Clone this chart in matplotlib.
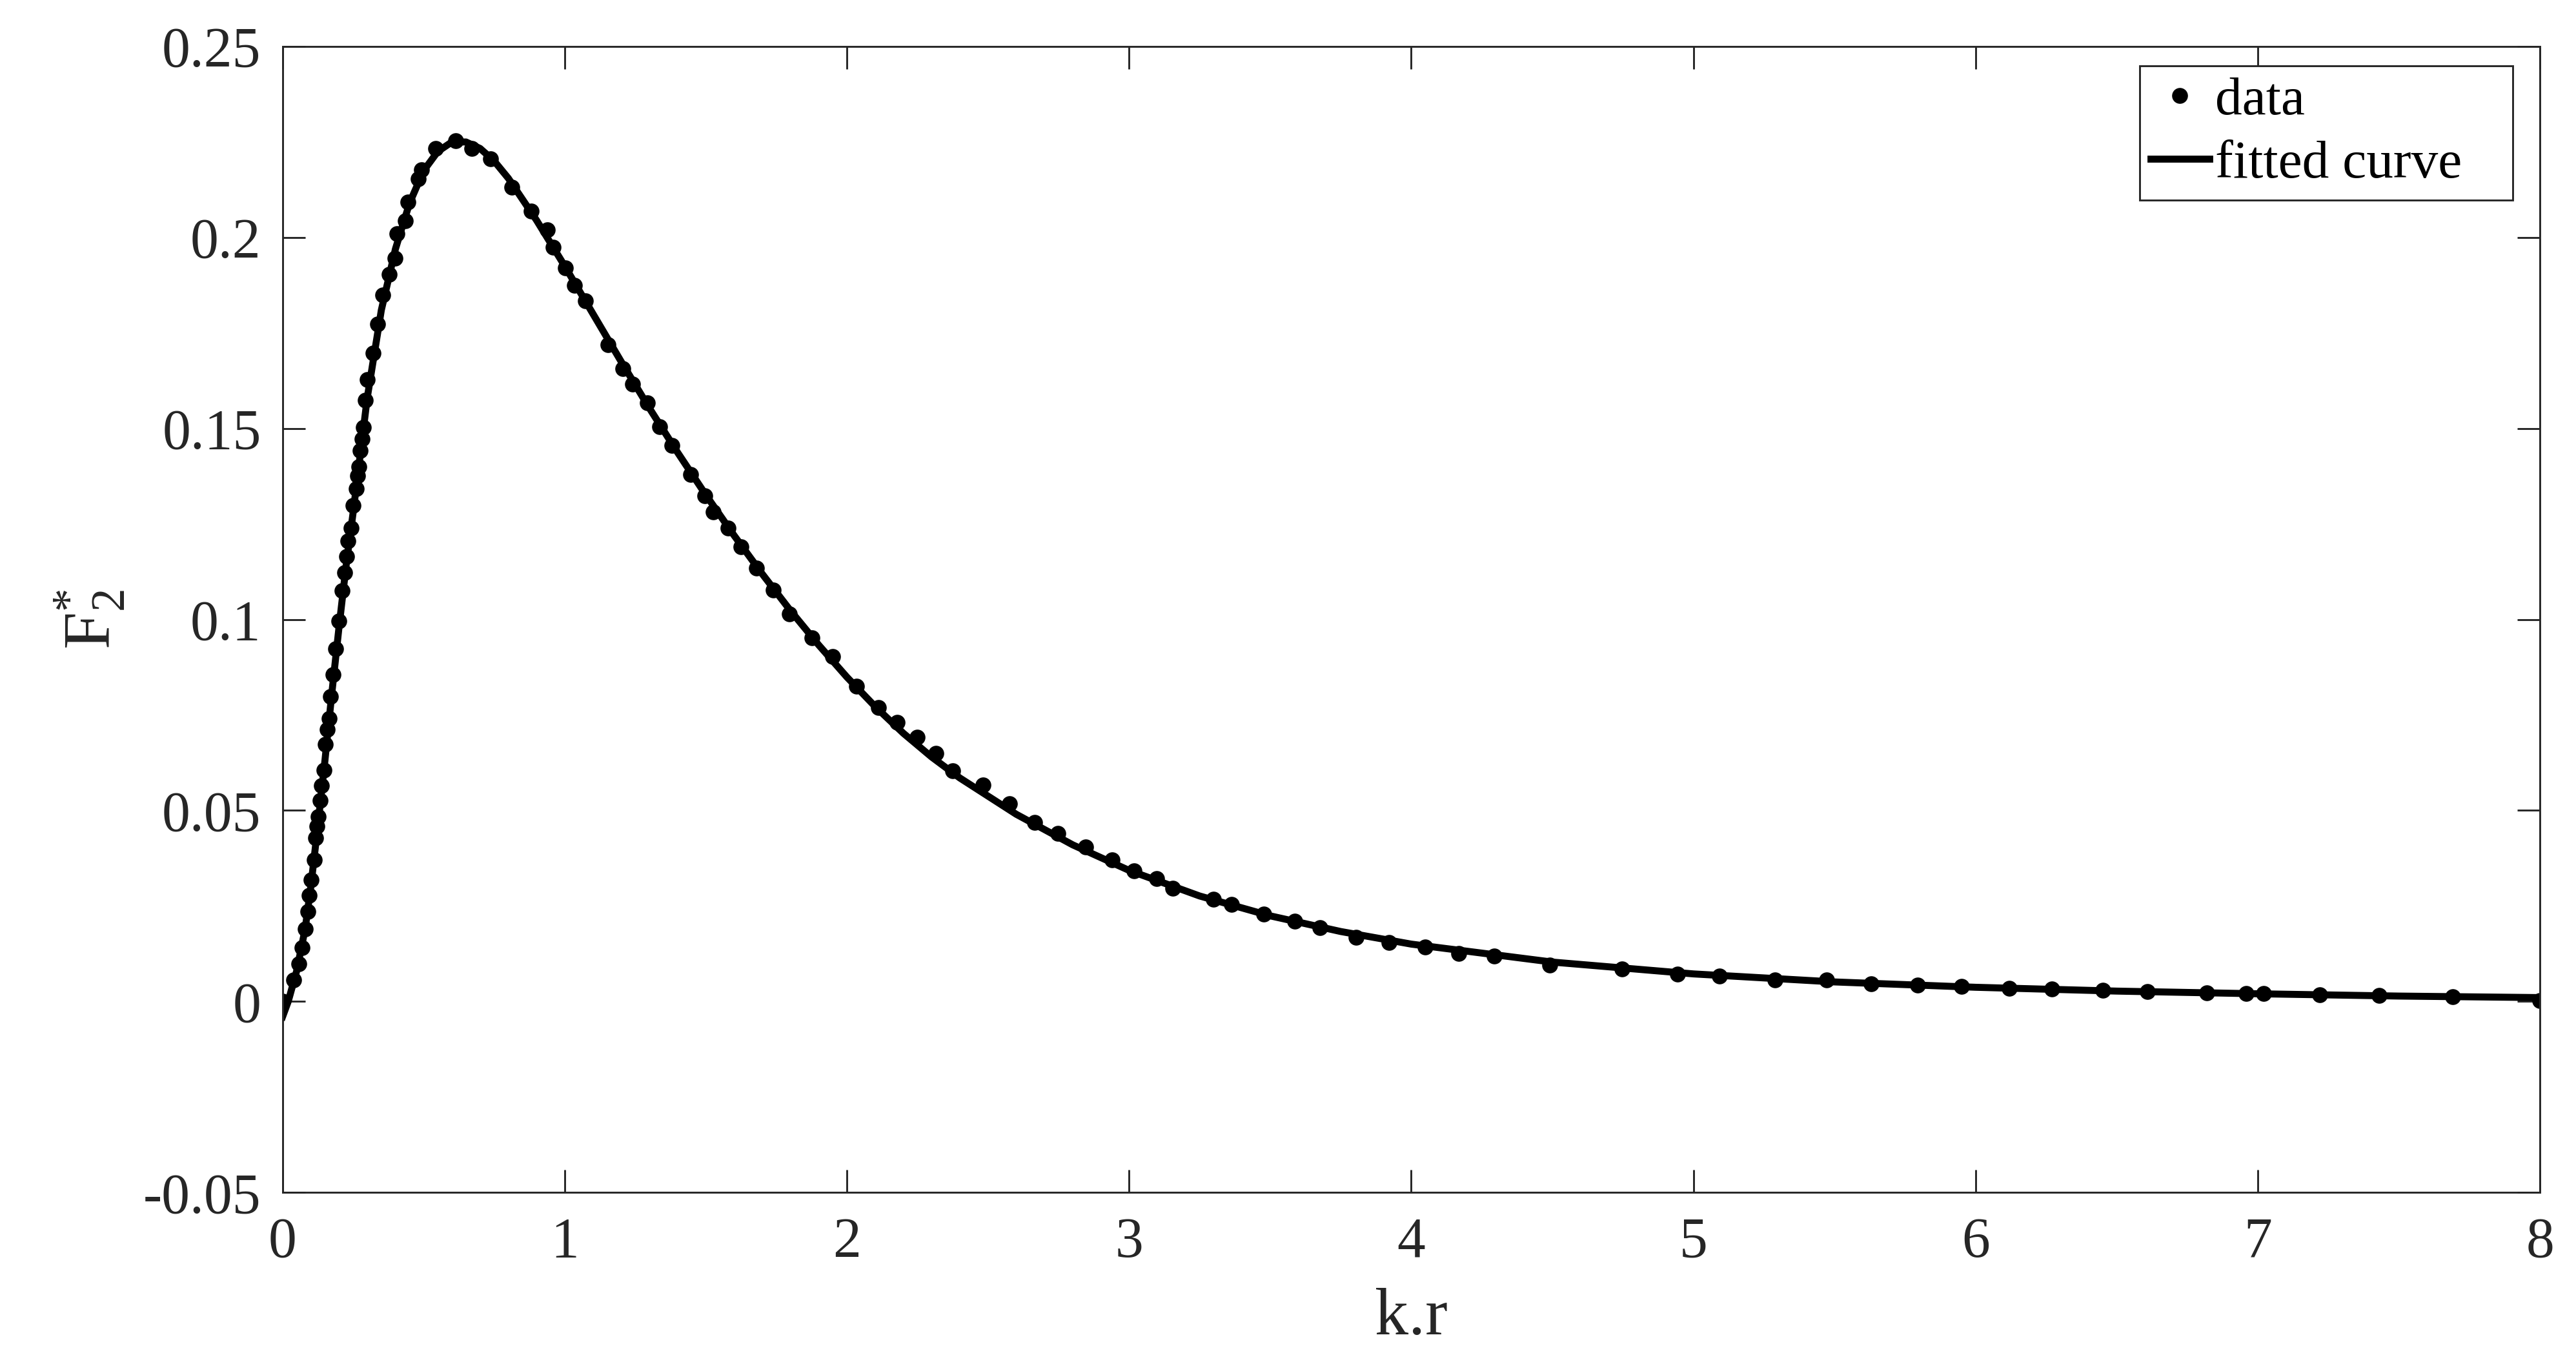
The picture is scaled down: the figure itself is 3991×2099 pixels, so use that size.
import matplotlib
matplotlib.use('Agg')
import matplotlib.pyplot as plt
from matplotlib.ticker import FormatStrFormatter, MultipleLocator

# measured data points (k.r, F2*)
kr_data = [0.000, 0.039, 0.057, 0.069, 0.080, 0.089, 0.094, 0.100, 0.112, 0.117,
           0.121, 0.127, 0.132, 0.138, 0.146, 0.151, 0.158, 0.165, 0.170, 0.178,
           0.189, 0.199, 0.212, 0.219, 0.226, 0.231, 0.243, 0.250, 0.262, 0.266,
           0.271, 0.276, 0.281, 0.287, 0.293, 0.300, 0.320, 0.336, 0.355, 0.378,
           0.398, 0.405, 0.435, 0.444, 0.481, 0.492, 0.542, 0.613, 0.671, 0.737,
           0.813, 0.881, 0.938, 0.959, 1.003, 1.035, 1.073, 1.153, 1.206, 1.240,
           1.293, 1.337, 1.380, 1.447, 1.497, 1.527, 1.579, 1.625, 1.680, 1.739,
           1.797, 1.877, 1.950, 2.034, 2.111, 2.179, 2.249, 2.315, 2.374, 2.483,
           2.577, 2.665, 2.747, 2.845, 2.940, 3.017, 3.097, 3.154, 3.300, 3.363,
           3.477, 3.587, 3.676, 3.804, 3.921, 4.049, 4.168, 4.294, 4.491, 4.747,
           4.944, 5.093, 5.290, 5.473, 5.630, 5.795, 5.950, 6.120, 6.270, 6.450,
           6.610, 6.820, 6.960, 7.020, 7.220, 7.430, 7.690, 8.000]
f2_data = [0.0000, 0.0056, 0.0098, 0.0140, 0.0190, 0.0235, 0.0277, 0.0318, 0.0370, 0.0428,
           0.0458, 0.0484, 0.0526, 0.0565, 0.0605, 0.0673, 0.0712, 0.0740, 0.0798, 0.0855,
           0.0923, 0.0996, 0.1075, 0.1123, 0.1165, 0.1205, 0.1239, 0.1298, 0.1342, 0.1376,
           0.1400, 0.1442, 0.1473, 0.1503, 0.1574, 0.1628, 0.1697, 0.1773, 0.1850, 0.1904,
           0.1946, 0.2010, 0.2044, 0.2093, 0.2154, 0.2178, 0.2233, 0.2254, 0.2233, 0.2206,
           0.2132, 0.2069, 0.2020, 0.1975, 0.1920, 0.1875, 0.1834, 0.1720, 0.1657, 0.1616,
           0.1567, 0.1505, 0.1456, 0.1380, 0.1324, 0.1282, 0.1239, 0.1190, 0.1134, 0.1077,
           0.1014, 0.0952, 0.0903, 0.0825, 0.0769, 0.0730, 0.0691, 0.0649, 0.0604, 0.0566,
           0.0517, 0.0468, 0.0440, 0.0404, 0.0370, 0.0342, 0.0321, 0.0296, 0.0267, 0.0254,
           0.0228, 0.0210, 0.0193, 0.0168, 0.0155, 0.0143, 0.0125, 0.0118, 0.0095, 0.0085,
           0.0072, 0.0066, 0.0057, 0.0056, 0.0046, 0.0042, 0.0039, 0.0035, 0.0032, 0.0029,
           0.0026, 0.0023, 0.0021, 0.0020, 0.0018, 0.0015, 0.0012, 0.0002]

# fitted curve
kr_fit = [0.0, 0.02, 0.05, 0.08, 0.10, 0.125, 0.15, 0.175, 0.20, 0.225, 0.25, 0.275,
          0.30, 0.35, 0.40, 0.45, 0.50, 0.55, 0.60, 0.65, 0.70, 0.75, 0.80, 0.90,
          1.0, 1.1, 1.2, 1.3, 1.4, 1.5, 1.6, 1.7, 1.8, 1.9, 2.0, 2.1, 2.2, 2.3,
          2.4, 2.6, 2.8, 3.0, 3.25, 3.5, 3.75, 4.0, 4.5, 5.0, 5.5, 6.0, 6.5, 7.0,
          7.5, 8.0]
f2_fit = [-0.0040, 0.0000, 0.0080, 0.0190, 0.0300, 0.0460, 0.0630, 0.0810, 0.0980, 0.1140,
          0.1280, 0.1430, 0.1580, 0.1810, 0.1970, 0.2090, 0.2175, 0.2225, 0.2250, 0.2250,
          0.2233, 0.2200, 0.2155, 0.2045, 0.1925, 0.1800, 0.1675, 0.1553, 0.1437, 0.1326,
          0.1220, 0.1119, 0.1023, 0.0933, 0.0849, 0.0772, 0.0702, 0.0640, 0.0585, 0.0490,
          0.0410, 0.0343, 0.0276, 0.0224, 0.0183, 0.0150, 0.0103, 0.0072, 0.0051, 0.0037,
          0.0027, 0.0020, 0.0014, 0.0010]

plt.rcParams['font.family'] = ['Liberation Serif', 'DejaVu Serif']
plt.rcParams['mathtext.fontset'] = 'custom'
plt.rcParams['mathtext.rm'] = 'Liberation Serif'
plt.rcParams['mathtext.it'] = 'Liberation Serif:italic'
plt.rcParams['axes.unicode_minus'] = False

axis_color = '#262626'

fig = plt.figure(figsize=(3991 / 300, 2099 / 300), dpi=300)
ax = fig.add_axes([0.1097, 0.120, 0.8763, 0.8457])

ax.plot(kr_data, f2_data, linestyle='none', marker='o', markersize=5.9,
        markeredgewidth=0, color='black', label='data')
ax.plot(kr_fit, f2_fit, color='black', linewidth=2.6, label='fitted curve   ')

ax.set_xlim(0, 8)
ax.set_ylim(-0.05, 0.25)
ax.xaxis.set_major_locator(MultipleLocator(1))
ax.yaxis.set_major_locator(MultipleLocator(0.05))
ax.yaxis.set_major_formatter(FormatStrFormatter('%g'))
ax.xaxis.set_major_formatter(FormatStrFormatter('%g'))

ax.tick_params(direction='in', length=8.4, width=0.7, colors=axis_color,
               labelsize=21, top=True, right=True)
ax.tick_params(axis='x', pad=9)
ax.tick_params(axis='y', pad=8)
for sp in ax.spines.values():
    sp.set_color(axis_color)
    sp.set_linewidth(0.7)

ax.set_xlabel('k.r', fontsize=25, color=axis_color, labelpad=7)
ax.set_ylabel(r'$\mathrm{F}^{*}_{2}$', fontsize=25, color=axis_color, labelpad=6)

leg = ax.legend(loc='upper right', bbox_to_anchor=(0.988, 0.983), borderaxespad=0,
                fontsize=20, frameon=True, fancybox=False, framealpha=1,
                edgecolor=axis_color, handlelength=1.1, handletextpad=0.1,
                borderpad=0.2, labelspacing=0.26)
leg.get_frame().set_linewidth(0.7)

fig.savefig('out.png', dpi=300)
